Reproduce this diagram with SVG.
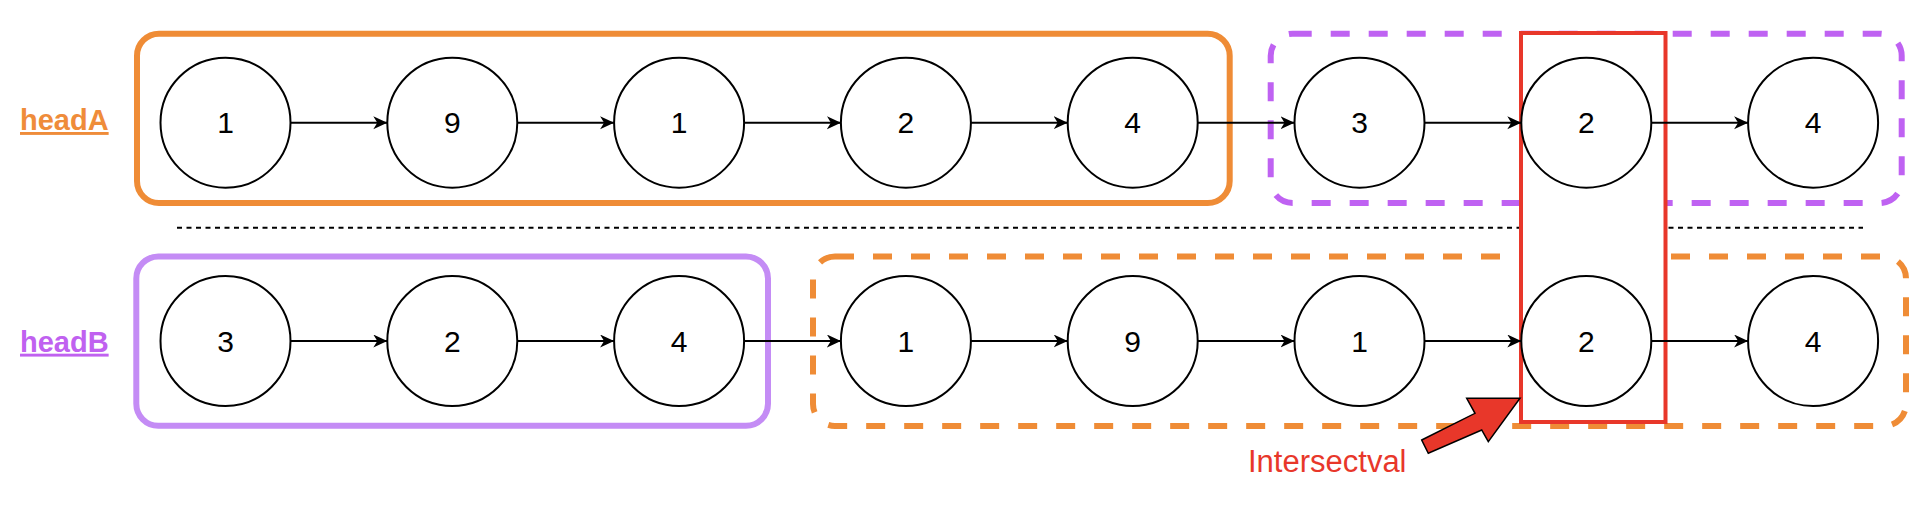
<svg xmlns="http://www.w3.org/2000/svg" width="1930" height="514" viewBox="0 0 1930 514">
<defs>
<style>
.node circle{fill:#fff;stroke:#000;stroke-width:2}
.node text{font-family:"Liberation Sans",Arial,sans-serif;font-size:30px;fill:#000;text-anchor:middle}
.conn line{stroke:#000;stroke-width:2;marker-end:url(#arr)}
.head{font-family:"Liberation Sans",Arial,sans-serif;font-size:29px;font-weight:bold;text-decoration:underline}
.box{fill:none;stroke-width:6}
</style>
<marker id="arr" markerUnits="userSpaceOnUse" markerWidth="16" markerHeight="14" refX="14" refY="6.5" orient="auto">
<path d="M0,0 L14,6.5 L0,13 L4,6.5 Z" fill="#000"/>
</marker>
</defs>
<rect width="1930" height="514" fill="#fff"/>

<g id="groups">
<rect id="boxA" class="box" x="137" y="33.7" width="1092.7" height="169.3" rx="22" stroke="#EF8C36"/>
<rect id="boxAshared" class="box" x="1270.7" y="33.7" width="631" height="169.3" rx="22" stroke="#BF62F2" stroke-dasharray="19 19"/>
<rect id="boxB" class="box" x="136.3" y="256.5" width="631.7" height="169.3" rx="22" stroke="#C48CF5"/>
<rect id="boxBshared" class="box" x="813" y="256.5" width="1093" height="169.5" rx="22" stroke="#EF8C36" stroke-dasharray="19 19"/>
</g>

<line id="divider" x1="177" y1="227.7" x2="1863" y2="227.7" stroke="#000" stroke-width="2" stroke-dasharray="5 4.5"/>

<rect id="intersection" x="1521" y="33" width="144.5" height="389" fill="#fff" stroke="#E8372A" stroke-width="4"/>

<text id="headA" class="head" x="20" y="130" fill="#EF8C3A">headA</text>
<text id="headB" class="head" x="20" y="351.7" fill="#C061F0">headB</text>

<g id="connectors" class="conn">
<line x1="290.5" y1="122.7" x2="387.3" y2="122.7"/>
<line x1="517.3" y1="122.7" x2="614.1" y2="122.7"/>
<line x1="744.1" y1="122.7" x2="840.9" y2="122.7"/>
<line x1="970.9" y1="122.7" x2="1067.7" y2="122.7"/>
<line x1="1197.7" y1="122.7" x2="1294.5" y2="122.7"/>
<line x1="1424.5" y1="122.7" x2="1521.3" y2="122.7"/>
<line x1="1651.3" y1="122.7" x2="1748.1" y2="122.7"/>
<line x1="290.5" y1="341" x2="387.3" y2="341"/>
<line x1="517.3" y1="341" x2="614.1" y2="341"/>
<line x1="744.1" y1="341" x2="840.9" y2="341"/>
<line x1="970.9" y1="341" x2="1067.7" y2="341"/>
<line x1="1197.7" y1="341" x2="1294.5" y2="341"/>
<line x1="1424.5" y1="341" x2="1521.3" y2="341"/>
<line x1="1651.3" y1="341" x2="1748.1" y2="341"/>
</g>

<g id="a1" class="node"><circle cx="225.5" cy="122.7" r="65"/><text x="225.5" y="133.4">1</text></g>
<g id="a2" class="node"><circle cx="452.3" cy="122.7" r="65"/><text x="452.3" y="133.4">9</text></g>
<g id="a3" class="node"><circle cx="679.1" cy="122.7" r="65"/><text x="679.1" y="133.4">1</text></g>
<g id="a4" class="node"><circle cx="905.9" cy="122.7" r="65"/><text x="905.9" y="133.4">2</text></g>
<g id="a5" class="node"><circle cx="1132.7" cy="122.7" r="65"/><text x="1132.7" y="133.4">4</text></g>
<g id="a6" class="node"><circle cx="1359.5" cy="122.7" r="65"/><text x="1359.5" y="133.4">3</text></g>
<g id="a7" class="node"><circle cx="1586.3" cy="122.7" r="65"/><text x="1586.3" y="133.4">2</text></g>
<g id="a8" class="node"><circle cx="1813.1" cy="122.7" r="65"/><text x="1813.1" y="133.4">4</text></g>

<g id="b1" class="node"><circle cx="225.5" cy="341" r="65"/><text x="225.5" y="351.9">3</text></g>
<g id="b2" class="node"><circle cx="452.3" cy="341" r="65"/><text x="452.3" y="351.9">2</text></g>
<g id="b3" class="node"><circle cx="679.1" cy="341" r="65"/><text x="679.1" y="351.9">4</text></g>
<g id="b4" class="node"><circle cx="905.9" cy="341" r="65"/><text x="905.9" y="351.9">1</text></g>
<g id="b5" class="node"><circle cx="1132.7" cy="341" r="65"/><text x="1132.7" y="351.9">9</text></g>
<g id="b6" class="node"><circle cx="1359.5" cy="341" r="65"/><text x="1359.5" y="351.9">1</text></g>
<g id="b7" class="node"><circle cx="1586.3" cy="341" r="65"/><text x="1586.3" y="351.9">2</text></g>
<g id="b8" class="node"><circle cx="1813.1" cy="341" r="65"/><text x="1813.1" y="351.9">4</text></g>

<g id="pointer">
<polygon points="1421.7,440 1475,413.3 1466.7,398.3 1520,398.3 1488.3,441.7 1481.7,430 1428.3,453.3" fill="#E8372A" stroke="#000" stroke-width="1.5" stroke-linejoin="miter"/>
<text x="1248" y="471.7" font-family="'Liberation Sans',Arial,sans-serif" font-size="31" fill="#E8372A">Intersectval</text>
</g>
</svg>
